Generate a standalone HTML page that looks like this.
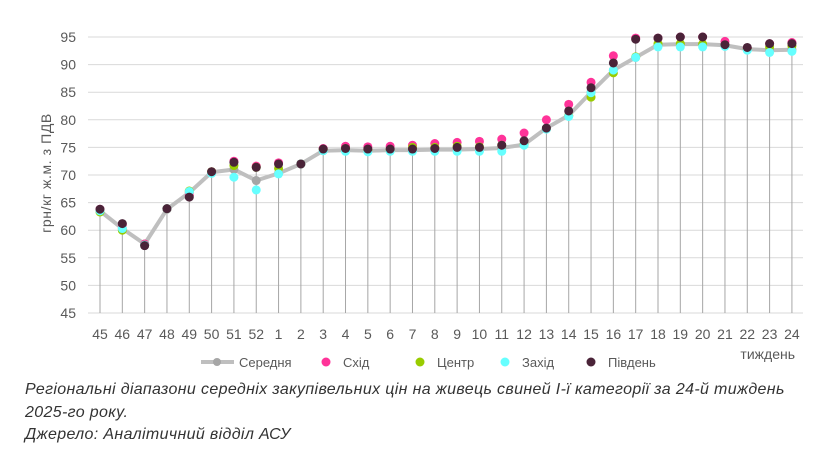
<!DOCTYPE html>
<html><head><meta charset="utf-8"><style>
body{margin:0;background:#fff;width:831px;height:463px;overflow:hidden;font-family:"Liberation Sans",sans-serif}
.cap{position:absolute;left:25px;font-style:italic;font-size:16px;letter-spacing:0.35px;color:#333;line-height:22.5px}
</style></head><body>
<svg id="s" width="831" height="463" style="position:absolute;left:0;top:0" font-family="Liberation Sans, sans-serif"></svg>
<div class="cap" style="top:379px">Регіональні діапазони середніх закупівельних цін на живець свиней I-ї категорії за 24-й тиждень<br>2025-го року.<br>Джерело: Аналітичний відділ АСУ</div>
<script>
const labels=[45,46,47,48,49,50,51,52,1,2,3,4,5,6,7,8,9,10,11,12,13,14,15,16,17,18,19,20,21,22,23,24];
const A=[63.5,60.3,57.5,63.8,66.8,70.5,71,69,70.3,72,74.4,74.5,74.4,74.5,74.5,74.6,74.6,74.7,74.9,75.5,78.5,80.8,85,89,91.3,93.6,93.7,93.7,93.5,92.8,92.6,92.7];
const S=[63.8,61,57.5,63.9,66.3,70.6,72.5,71.6,72.2,72,74.8,75.2,75.1,75.2,75.4,75.7,75.9,76.1,76.5,77.6,80,82.8,86.8,91.6,94.8,94.8,95,95,94.2,93,93.8,94];
const C=[63.3,60,57.3,63.9,67.1,70.6,71.7,71.4,71.2,72,74.6,74.8,74.5,74.5,75,75,75.2,75.1,75.4,75.5,78.4,80.7,84.1,88.5,91.4,93.8,93.8,93.7,93.4,92.8,93.2,93.4];
const Z=[63.5,60.3,57.3,63.9,67,70.3,69.6,67.3,70.2,72,74.4,74.3,74.2,74.3,74.3,74.3,74.3,74.3,74.3,75.4,78.3,80.6,84.9,89,91.3,93.2,93.2,93.2,93.3,92.6,92.2,92.4];
const P=[63.8,61.2,57.2,63.9,66,70.6,72.3,71.4,72,72,74.7,74.8,74.7,74.7,74.7,74.8,75,75,75.4,76.2,78.5,81.6,85.8,90.3,94.6,94.8,95,95,93.6,93.1,93.8,93.8];
const X=i=>100+22.32*i, Y=v=>313-(v-45)*5.52;
let h='';
for(let v=45;v<=95;v+=5){h+=`<line x1="88" x2="803" y1="${Y(v)}" y2="${Y(v)}" stroke="#d9d9d9" stroke-width="1"/><text x="76" y="${Y(v)+5}" text-anchor="end" font-size="14" fill="#595959">${v}</text>`;}
labels.forEach((l,i)=>{const top=Math.min(Y(S[i]),Y(P[i]),Y(C[i]),Y(Z[i]),Y(A[i]));h+=`<line x1="${X(i)}" x2="${X(i)}" y1="${top}" y2="313" stroke="#a6a6a6" stroke-width="1"/><text x="${X(i)}" y="339" text-anchor="middle" font-size="14" fill="#595959">${l}</text>`;});
h+=`<polyline fill="none" stroke="#bfbfbf" stroke-width="4" stroke-linejoin="round" points="${A.map((v,i)=>X(i)+','+Y(v)).join(' ')}"/>`;
A.forEach((v,i)=>h+=`<circle cx="${X(i)}" cy="${Y(v)}" r="4.5" fill="#a6a6a6"/>`);
[[S,'#ff3399'],[C,'#99cc00'],[Z,'#66ffff'],[P,'#4a2338']].forEach(([d,c])=>d.forEach((v,i)=>h+=`<circle cx="${X(i)}" cy="${Y(v)}" r="4.5" fill="${c}"/>`));
h+=`<text transform="translate(51,173) rotate(-90)" text-anchor="middle" font-size="14" letter-spacing="0.6" fill="#595959">грн/кг ж.м. з ПДВ</text>`;
h+=`<text x="795" y="359" text-anchor="end" font-size="14" fill="#595959">тиждень</text>`;
h+=`<line x1="201" x2="234" y1="362" y2="362" stroke="#bfbfbf" stroke-width="4"/><circle cx="217" cy="362" r="4" fill="#a6a6a6"/><text x="239" y="367" font-size="13" fill="#595959">Середня</text>`;
[[326,'#ff3399','Схід'],[420,'#99cc00','Центр'],[505,'#66ffff','Захід'],[591,'#4a2338','Південь']].forEach(([x,c,t])=>h+=`<circle cx="${x}" cy="362" r="4.5" fill="${c}"/><text x="${x+17}" y="367" font-size="13" fill="#595959">${t}</text>`);
document.getElementById('s').innerHTML=h;
</script>
</body></html>
